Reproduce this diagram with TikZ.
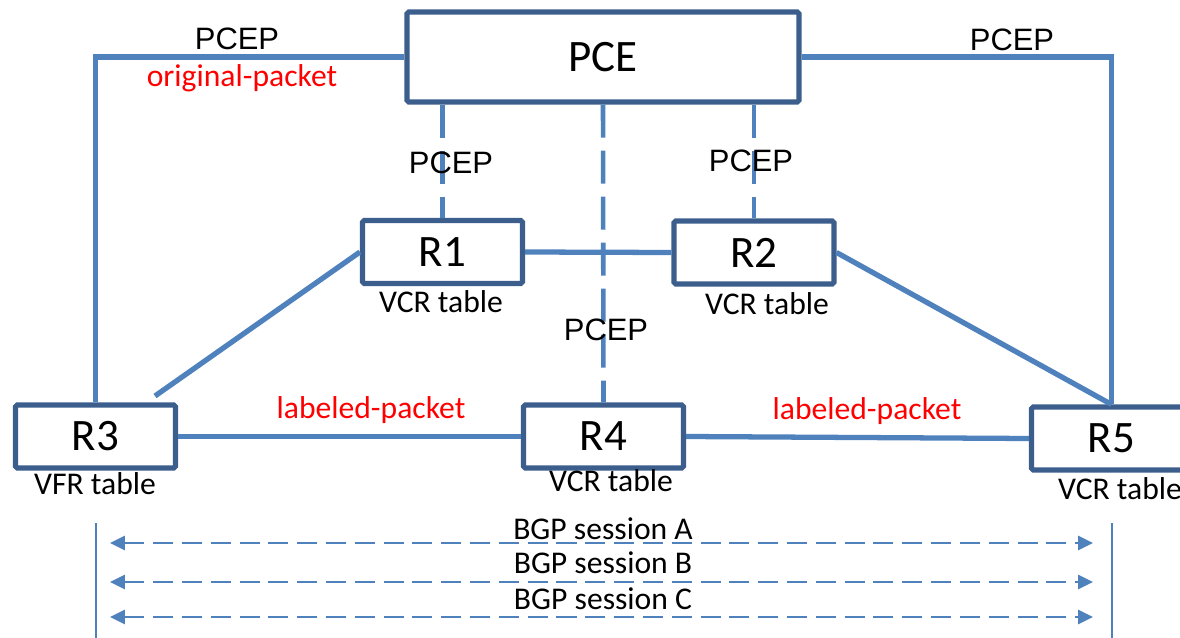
\documentclass[tikz,border=0pt]{standalone}
\usepackage{fontspec}
\setmainfont{Carlito}
\newfontfamily\arialfont{Liberation Sans}
\usetikzlibrary{arrows.meta}
\definecolor{linkblue}{HTML}{4F81BD}
\definecolor{boxblue}{HTML}{3B5E8C}

\begin{document}
\begin{tikzpicture}[x = 0.02cm, y = -0.02cm,
                    box/.style = {draw = boxblue, line width = 2.9pt, fill = white, rounded corners = 1pt,
                                  inner sep = 0pt, minimum width = 3.2cm, minimum height = 1.26cm,
                                  font = \fontsize{25.6}{28}\selectfont},
                    link/.style = {draw = linkblue, line width = 3pt},
                    ctrl/.style = {draw = linkblue, line width = 2.6pt, dash pattern = on 18.8pt off 7.4pt},
                    session/.style = {draw = linkblue, line width = 1.5pt, dash pattern = on 11.4pt off 5pt,
                                      {Triangle[length = 8.5pt, width = 8pt]}-{Triangle[length = 8.5pt, width = 8pt]}},
                    proto/.style = {inner sep = 0pt, font = \arialfont\fontsize{17.6}{20}\selectfont},
                    tbl/.style = {inner sep = 0pt, font = \fontsize{18}{20}\selectfont},
                    pkt/.style = {inner sep = 0pt, text = red, font = \fontsize{18}{20}\selectfont}]
      \useasboundingbox (0, 0) rectangle (1180, 638);
      \clip (0, 0) rectangle (1180, 638);

      \node [box, minimum width = 7.84cm, minimum height = 1.8cm] (pce) at (603, 57){PCE};
      \node [box] (r1) at (442.5, 252){R1};
      \node [box] (r2) at (754, 252.5){R2};
      \node [box] (r3) at (95.5, 436.5){R3};
      \node [box] (r4) at (603.5, 436.5){R4};
      \node [box] (r5) at (1111.5, 438.5){R5};

      \coordinate (r3link) at (155, 396);
      \draw [link] (pce.west) -| (r3.north);
      \draw [link] (pce.east) -| (r5.north);
      \draw [link] (r1.east) -- (r2.west);
      \draw [link] (r1.west) -- (r3link);
      \draw [link] (r2.east) -- (r5.north);
      \draw [link] (r3.east) -- (r4.west);
      \draw [link] (r4.east) -- (r5.west);
      \draw [ctrl] (pce.south -| r1.north) -- (r1.north);
      \draw [ctrl] (pce.south -| r2.north) -- (r2.north);
      \draw [ctrl] (pce.south) -- (r4.north);

      \node [proto] (p1) at (237, 39){PCEP};
      \node [proto] (p2) at (1012, 40){PCEP};
      \node [proto] (p3) at (451, 163){PCEP};
      \node [proto] (p4) at (751, 161){PCEP};
      \node [proto] (p5) at (606, 330){PCEP};
      \node [pkt] (op) at (242, 78){original-packet};
      \node [pkt] (lp1) at (371, 410){labeled-packet};
      \node [pkt] (lp2) at (867, 411){labeled-packet};

      \node [tbl] (t1) at (441, 302){VCR table};
      \node [tbl] (t2) at (767, 304){VCR table};
      \node [tbl] (t3) at (95, 484){VFR table};
      \node [tbl] (t4) at (611, 481){VCR table};
      \node [tbl] (t5) at (1120, 489){VCR table};

      % BGP sessions between R3 and R5
      \coordinate (la) at (96, 523);
      \coordinate (lb) at (96, 640);
      \coordinate (ra) at (1112, 523);
      \coordinate (rb) at (1112, 640);
      \draw [draw = linkblue, line width = 1.3pt] (la) -- (lb);
      \draw [draw = linkblue, line width = 1.3pt] (ra) -- (rb);
      \foreach \y/\s in {543/A, 582/B, 617/C}{
        \coordinate (s\s l) at (110, \y);
        \coordinate (s\s r) at (1093, \y);
        \draw [session] (s\s l) -- (s\s r);
      }
      \node [tbl] (bA) at (603, 529){BGP session A};
      \node [tbl] (bB) at (603, 563){BGP session B};
      \node [tbl] (bC) at (603, 599){BGP session C};

      \end{tikzpicture}
\end{document}
